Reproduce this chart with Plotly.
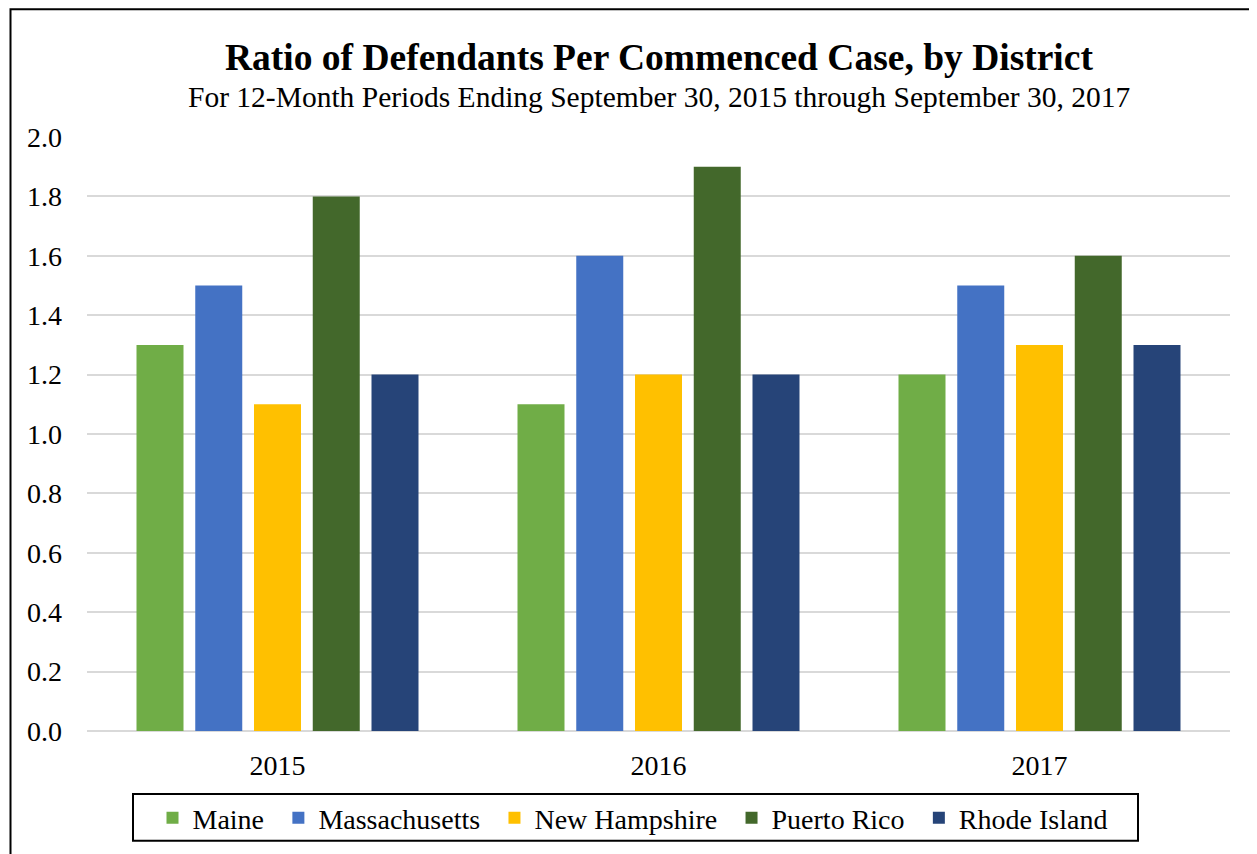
import plotly.graph_objects as go

years = ["2015", "2016", "2017"]
districts = ["Maine", "Massachusetts", "New Hampshire", "Puerto Rico", "Rhode Island"]
maine = [1.3, 1.1, 1.2]
massachusetts = [1.5, 1.6, 1.5]
new_hampshire = [1.1, 1.2, 1.3]
puerto_rico = [1.8, 1.9, 1.6]
rhode_island = [1.2, 1.2, 1.3]
series = [maine, massachusetts, new_hampshire, puerto_rico, rhode_island]
colors = ["#70AD47", "#4472C4", "#FFC000", "#43682B", "#264478"]
yticks = [0.0, 0.2, 0.4, 0.6, 0.8, 1.0, 1.2, 1.4, 1.6, 1.8, 2.0]

FONT = "Liberation Serif, Times New Roman, serif"
NB = "\u00a0\u200a"

# plot area (in figure px): left 79, right 1222, top 129, bottom 724
PW, PH = 1143.0, 595.0


def px_x(sx):
    return (sx - 87) / PW


def px_y(sy):
    return (732 - sy) / PH


fig = go.Figure()
for name, vals, c in zip(districts, series, colors):
    fig.add_trace(go.Bar(x=years, y=vals, name=name + NB, marker=dict(color=c, line=dict(width=0))))

fig.update_layout(
    width=1249, height=846,
    margin=dict(l=79, r=27, t=129, b=122),
    paper_bgcolor="white", plot_bgcolor="white",
    font=dict(family=FONT, color="black", size=28),
    barmode="group", bargap=0.229, bargroupgap=0.2,
    showlegend=True,
    legend=dict(orientation="h", x=px_x(152.5), xanchor="left", y=px_y(818), yanchor="middle",
                borderwidth=0, bgcolor="rgba(0,0,0,0)", font=dict(size=28, family=FONT),
                traceorder="normal", itemwidth=30),
    xaxis=dict(showgrid=False, showline=False, ticks="", tickfont=dict(size=28), ticklabelstandoff=15),
    yaxis=dict(range=[0, 2.0], tickvals=yticks, ticktext=[f"{v:.1f}" for v in yticks],
               showgrid=True, gridcolor="#D9D9D9", gridwidth=1.5, zeroline=True,
               zerolinecolor="#D9D9D9", zerolinewidth=1.5, showline=False, ticks="",
               tickfont=dict(size=28), ticklabelstandoff=24),
    annotations=[
        dict(text="<b>Ratio of Defendants Per Commenced Case, by District</b>", xref="paper", yref="paper",
             x=0.5, y=px_y(57), xanchor="center", yanchor="middle", showarrow=False,
             font=dict(size=37.5, family=FONT)),
        dict(text="For 12-Month Periods Ending September 30, 2015 through September 30, 2017", xref="paper",
             yref="paper", x=0.5, y=px_y(97), xanchor="center", yanchor="middle",
             showarrow=False, font=dict(size=29.5, family=FONT)),
    ],
    shapes=[
        dict(type="rect", xref="paper", yref="paper", x0=px_x(10.5), x1=1.2,
             y0=-0.5, y1=px_y(9), line=dict(color="black", width=2), layer="below"),
        dict(type="rect", xref="paper", yref="paper", x0=px_x(133), x1=px_x(1138),
             y0=px_y(842), y1=px_y(795), line=dict(color="black", width=2), layer="above"),
    ],
)

fig.write_html("out.html")
